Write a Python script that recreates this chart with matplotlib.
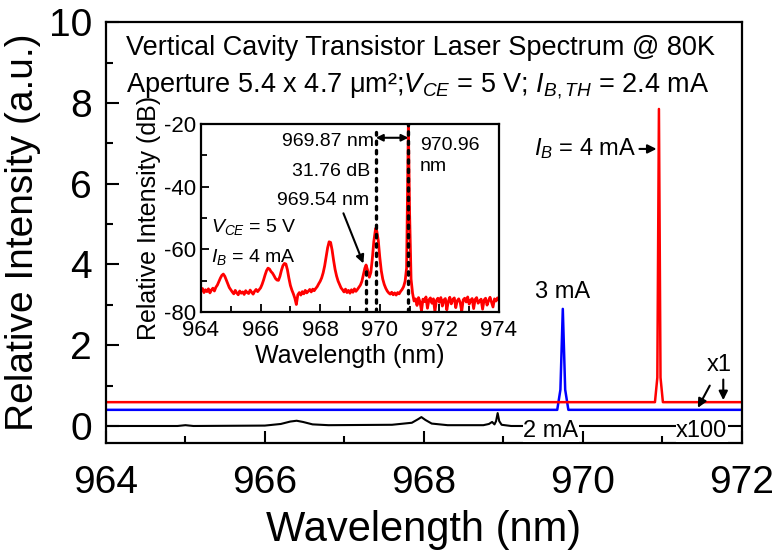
import numpy as np
import matplotlib
matplotlib.use("Agg")
import matplotlib.pyplot as plt

plt.rcParams["font.family"] = ["Liberation Sans", "DejaVu Sans"]
plt.rcParams["mathtext.fontset"] = "custom"
plt.rcParams["mathtext.rm"] = "Liberation Sans"
plt.rcParams["mathtext.it"] = "Liberation Sans:italic"
plt.rcParams["axes.unicode_minus"] = False

# main spectra (linear scale), IB = 2 mA (x100), 3 mA, 4 mA
wl_2ma = [964.0, 964.9, 965.0, 965.1, 966.0, 966.2, 966.32, 966.4, 966.48, 966.6,
          966.8, 967.6, 967.85, 967.93, 967.97, 968.02, 968.1, 968.3, 968.75, 968.82,
          968.86, 968.89, 968.91, 968.93, 968.95, 968.98, 969.1, 972.0]
int_2ma = [0.0, 0.0, 0.02, 0.0, 0.01, 0.05, 0.11, 0.13, 0.10, 0.04,
           0.02, 0.03, 0.08, 0.17, 0.22, 0.15, 0.06, 0.02, 0.02, 0.05,
           0.10, 0.04, 0.12, 0.32, 0.12, 0.03, 0.0, 0.0]

wl_3ma = [964.0, 969.68, 969.72, 969.75, 969.78, 969.82, 972.0]
int_3ma = [0.40, 0.40, 0.9, 2.9, 0.9, 0.40, 0.40]

wl_4ma = [964.0, 970.91, 970.94, 970.96, 970.98, 971.01, 972.0]
int_4ma = [0.59, 0.59, 1.2, 7.85, 1.2, 0.59, 0.59]

# inset spectrum at IB = 4 mA (dB), sampled every 0.05 nm from 964 to 974
inset_wl = np.round(np.arange(964.0, 974.001, 0.05), 2)
inset_db = [
    -73.2, -72.5, -73.8, -72.9, -73.5, -72.6, -73.9, -73.0, -72.4, -73.3,
    -72.1, -71.4, -70.3, -69.2, -68.3, -67.9, -68.6, -69.8, -71.0, -72.2,
    -72.9, -73.6, -74.2, -73.1, -73.9, -74.5, -73.3, -74.0, -73.6, -74.4,
    -73.2, -73.8, -74.1, -73.0, -73.7, -74.3, -73.4, -72.8, -73.5, -72.9,
    -72.3, -71.2, -69.8, -68.2, -66.8, -66.0, -66.3, -67.1, -67.6, -68.4,
    -69.3, -69.8, -69.9, -68.6, -66.7, -65.2, -64.5, -64.7, -66.5, -69.2,
    -71.5, -73.0, -74.2, -75.6, -77.6, -74.5, -73.8, -74.6, -73.5, -74.2,
    -73.1, -73.9, -73.4, -72.8, -73.6, -72.7, -73.2, -72.5, -71.9, -71.0,
    -70.2, -69.1, -67.5, -65.3, -62.4, -59.5, -57.6, -57.8, -60.2, -63.5,
    -66.4, -68.5, -70.1, -71.2, -72.3, -72.9, -73.6, -72.7, -73.8, -73.1,
    -74.0, -72.9, -73.7, -72.6, -73.4, -72.8, -72.1, -71.4, -70.2, -68.1,
    -66.0, -65.3, -67.0, -68.9, -67.4, -63.0, -57.5, -54.0, -54.2, -57.2,
    -62.5, -66.8, -69.5, -71.2, -72.4, -73.3, -73.9, -74.3, -73.7, -74.5,
    -73.9, -74.6, -73.8, -74.2, -73.4, -72.8, -71.9, -70.2, -66.0, -27.0,
    -48.0, -69.5, -74.0, -76.5, -75.8, -77.9, -75.4, -76.8, -79.6, -75.9,
    -76.7, -75.2, -78.8, -76.1, -75.5, -77.2, -75.8, -79.9, -76.3, -75.6,
    -76.9, -75.4, -78.1, -76.2, -75.7, -79.3, -76.6, -75.3, -77.4, -76.0,
    -75.5, -78.6, -76.4, -75.8, -77.0, -79.8, -76.1, -75.6, -76.8, -75.2,
    -77.5, -76.3, -75.7, -78.9, -76.0, -75.4, -77.2, -76.5, -75.9, -79.1,
    -76.2, -75.6, -77.8, -76.4, -75.3, -76.9, -78.4, -75.8, -76.5, -75.5,
    -76.2,
]
# mode peaks
peak_wl = [969.54, 969.87, 970.96]
peak_db = [-65.0, -53.2, -20.0]

wl_all = np.concatenate([inset_wl, peak_wl])
db_all = np.concatenate([inset_db, peak_db])
order = np.argsort(wl_all, kind="stable")
wl_all, db_all = wl_all[order], db_all[order]

fig = plt.figure(figsize=(7.76, 5.53), dpi=100)
ax = fig.add_axes([0.1366, 0.199, 0.819, 0.761])

ax.plot(wl_2ma, int_2ma, color="black", lw=1.5)
ax.plot(wl_3ma, int_3ma, color="#0000ff", lw=1.8)
ax.plot(wl_4ma, int_4ma, color="#ff0000", lw=1.8)

ax.set_xlim(964, 972)
ax.set_ylim(-0.42, 10)
ax.set_xticks(np.arange(964, 973, 2))
ax.set_xticks(np.arange(965, 972, 2), minor=True)
ax.set_yticks(np.arange(0, 11, 2))
ax.set_yticks(np.arange(1, 10, 2), minor=True)
ax.tick_params(which="both", direction="in", width=1.5, labelsize=28)
ax.tick_params(which="major", length=9)
ax.tick_params(which="minor", length=5)
ax.tick_params(axis="x", pad=16)
ax.tick_params(axis="y", pad=10)
for s in ax.spines.values():
    s.set_linewidth(1.6)
ax.set_xlabel("Wavelength (nm)", fontsize=30, labelpad=6)
ax.set_ylabel("Relative Intensity (a.u.)", fontsize=28, labelpad=6)

ax.text(964.25, 9.36, "Vertical Cavity Transistor Laser Spectrum @ 80K",
        fontsize=19.5, ha="left", va="center")
ax.text(964.25, 8.42,
        "Aperture 5.4 x 4.7 μm²;$V_{CE}$ = 5 V; $I_{B,TH}$ = 2.4 mA",
        fontsize=19.5, ha="left", va="center")

arrow = dict(arrowstyle="-|>", color="black", lw=1.5, mutation_scale=13,
             shrinkA=0, shrinkB=0)
ax.annotate("$I_B$ = 4 mA", xy=(970.93, 6.86), xytext=(970.68, 6.86),
            fontsize=17, ha="right", va="center", arrowprops=arrow)
ax.text(969.40, 3.33, "3 mA", fontsize=17, ha="left", va="center")
ax.text(971.72, 1.5, "x1", fontsize=17, ha="center", va="center")
ax.annotate("", xy=(971.45, 0.45), xytext=(971.6, 1.0), arrowprops=arrow)
ax.annotate("", xy=(971.77, 0.64), xytext=(971.77, 1.15), arrowprops=arrow)
white = dict(facecolor="white", edgecolor="none", pad=0.3)
ax.text(969.6, -0.12, "2 mA", fontsize=17, ha="center", va="center", bbox=white)
ax.text(971.5, -0.12, "x100", fontsize=17, ha="center", va="center", bbox=white)

# inset: log-scale spectrum
ins = fig.add_axes([0.259, 0.4358, 0.384, 0.340])
ins.plot(wl_all, db_all, color="#ff0000", lw=2.0, zorder=2)
ins.set_xlim(964, 974)
ins.set_ylim(-80, -20)
ins.set_xticks(np.arange(964, 975, 2))
ins.set_xticks(np.arange(965, 974, 2), minor=True)
ins.set_yticks(np.arange(-80, -19, 20))
ins.set_yticks(np.arange(-70, -20, 20), minor=True)
ins.tick_params(which="both", direction="in", width=1.3, labelsize=16)
ins.tick_params(which="major", length=6)
ins.tick_params(which="minor", length=4)
ins.tick_params(axis="x", pad=6)
for s in ins.spines.values():
    s.set_linewidth(1.6)
ins.set_xlabel("Wavelength (nm)", fontsize=18, labelpad=2)
ins.set_ylabel("Relative Intensity (dB)", fontsize=18, labelpad=2)

dots = dict(color="black", lw=2.4, linestyle=(0, (1, 1.8)),
            dash_capstyle="round", zorder=3)
ins.plot([969.54, 969.54], [-80, -65.5], **dots)
ins.plot([969.87, 969.87], [-80, -22.5], **dots)
ins.plot([970.96, 970.96], [-80, -20], **dots)
ins.annotate("", xy=(969.87, -24.4), xytext=(970.96, -24.4),
             arrowprops=dict(arrowstyle="<|-|>", color="black", lw=1.5,
                             mutation_scale=10, shrinkA=0, shrinkB=0))

ins.text(969.80, -25.6, "969.87 nm", fontsize=14, ha="right", va="center")
ins.text(969.67, -35.2, "31.76 dB", fontsize=14, ha="right", va="center")
ins.text(969.63, -44.3, "969.54 nm", fontsize=14, ha="right", va="center")
ins.annotate("", xy=(969.45, -64.5), xytext=(968.78, -48.5),
             arrowprops=dict(arrowstyle="-|>", color="black", lw=1.5,
                             mutation_scale=12, shrinkA=0, shrinkB=0))
ins.text(971.35, -30.2, "970.96\nnm", fontsize=14, ha="left", va="center",
         linespacing=1.3)
ins.text(964.33, -52.8, "$V_{CE}$ = 5 V", fontsize=14, ha="left", va="center")
ins.text(964.33, -62.3, "$I_B$ = 4 mA", fontsize=14, ha="left", va="center")

fig.savefig("out.png", dpi=100)
